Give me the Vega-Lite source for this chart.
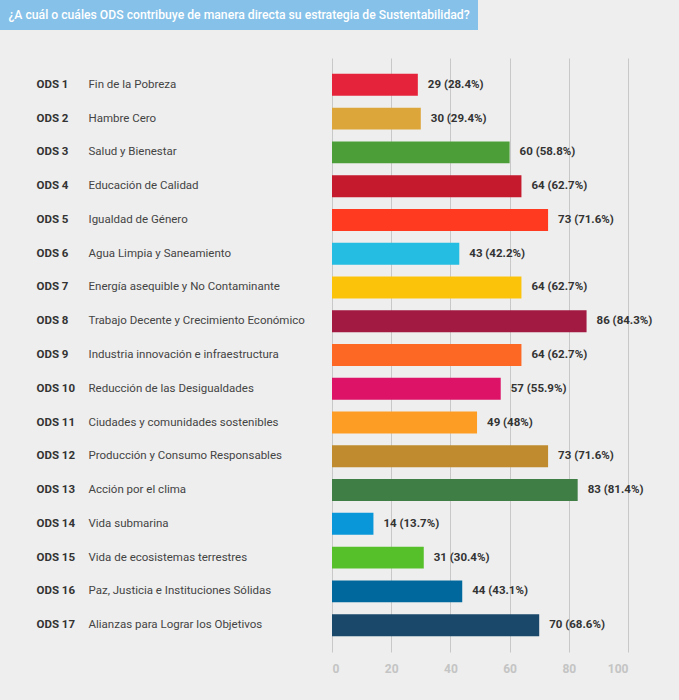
{
  "$schema": "https://vega.github.io/schema/vega-lite/v6.json",
  "background": "#eeeeee",
  "padding": {"left": 0, "top": 0, "right": 27, "bottom": 27},
  "config": {"view": {"stroke": null}, "font": "Roboto"},
  "spacing": 28,
  "vconcat": [
    {
      "width": 478,
      "height": 30,
      "view": {"fill": "#85c1e9", "stroke": null},
      "data": {"values": [{"t": "¿A cuál o cuáles ODS contribuye de manera directa su estrategia de Sustentabilidad?"}]},
      "mark": {"type": "text", "color": "#ffffff", "fontSize": 12.2, "fontWeight": 500, "font": "Roboto", "align": "center", "baseline": "middle"},
      "encoding": {"text": {"field": "t"}}
    },
    {
      "width": 628,
      "height": 594,
      "data": {"values": [
        {"ods": "ODS 1", "name": "Fin de la Pobreza", "count": 29, "pct": 28.4},
        {"ods": "ODS 2", "name": "Hambre Cero", "count": 30, "pct": 29.4},
        {"ods": "ODS 3", "name": "Salud y Bienestar", "count": 60, "pct": 58.8},
        {"ods": "ODS 4", "name": "Educación de Calidad", "count": 64, "pct": 62.7},
        {"ods": "ODS 5", "name": "Igualdad de Género", "count": 73, "pct": 71.6},
        {"ods": "ODS 6", "name": "Agua Limpia y Saneamiento", "count": 43, "pct": 42.2},
        {"ods": "ODS 7", "name": "Energía asequible y No Contaminante", "count": 64, "pct": 62.7},
        {"ods": "ODS 8", "name": "Trabajo Decente y Crecimiento Económico", "count": 86, "pct": 84.3},
        {"ods": "ODS 9", "name": "Industria innovación e infraestructura", "count": 64, "pct": 62.7},
        {"ods": "ODS 10", "name": "Reducción de las Desigualdades", "count": 57, "pct": 55.9},
        {"ods": "ODS 11", "name": "Ciudades y comunidades sostenibles", "count": 49, "pct": 48},
        {"ods": "ODS 12", "name": "Producción y Consumo Responsables", "count": 73, "pct": 71.6},
        {"ods": "ODS 13", "name": "Acción por el clima", "count": 83, "pct": 81.4},
        {"ods": "ODS 14", "name": "Vida submarina", "count": 14, "pct": 13.7},
        {"ods": "ODS 15", "name": "Vida de ecosistemas terrestres", "count": 31, "pct": 30.4},
        {"ods": "ODS 16", "name": "Paz, Justicia e Instituciones Sólidas", "count": 44, "pct": 43.1},
        {"ods": "ODS 17", "name": "Alianzas para Lograr los Objetivos", "count": 70, "pct": 68.6}
      ]},
      "transform": [
        {"calculate": "datum.ods + '|' + datum.name", "as": "key"},
        {"calculate": "datum.count + ' (' + datum.pct + '%)'", "as": "label"}
      ],
      "resolve": {"axis": {"y": "independent"}},
      "layer": [
        {
          "mark": {"type": "bar"},
          "encoding": {
            "y": {
              "field": "key", "type": "nominal", "sort": null,
              "scale": {"paddingInner": 0.35, "paddingOuter": 0.47},
              "axis": {
                "orient": "left", "labelExpr": "split(datum.label, '|')[0]",
                "labelAlign": "left", "labelPadding": -36, "labelFontSize": 11.5, "labelFontWeight": "bold",
                "labelColor": "#333333", "labelFont": "Roboto", "ticks": false, "domain": false, "grid": false, "title": null
              }
            },
            "x": {
              "field": "count", "type": "quantitative",
              "scale": {"domain": [0, 100], "range": [332, 628]},
              "axis": {
                "values": [0, 20, 40, 60, 80, 100], "title": null, "grid": true, "gridColor": "#c8c8c8",
                "ticks": false, "domain": false, "labelColor": "#c4c4c4", "labelFontSize": 12, "labelFontWeight": "bold",
                "labelPadding": 11
              }
            },
            "color": {
              "field": "ods", "type": "nominal", "legend": null,
              "scale": {
                "domain": ["ODS 1","ODS 2","ODS 3","ODS 4","ODS 5","ODS 6","ODS 7","ODS 8","ODS 9","ODS 10","ODS 11","ODS 12","ODS 13","ODS 14","ODS 15","ODS 16","ODS 17"],
                "range": ["#e5243b","#dda63a","#4c9f38","#c5192d","#ff3a21","#26bde2","#fcc30b","#a21942","#fd6925","#dd1367","#fd9d24","#bf8b2e","#3f7e44","#0a97d9","#56c02b","#00689d","#19486a"]
              }
            }
          }
        },
        {
          "mark": {"type": "text", "align": "left", "baseline": "middle", "dx": 10, "fontSize": 11.5, "fontWeight": "bold", "color": "#333333"},
          "encoding": {
            "y": {
              "field": "key", "type": "nominal", "sort": null,
              "axis": {
                "orient": "left", "labelExpr": "split(datum.label, '|')[1]",
                "labelAlign": "left", "labelPadding": -88, "labelLimit": 260, "labelFontSize": 11.5, "labelColor": "#444444",
                "labelFont": "Roboto", "ticks": false, "domain": false, "grid": false, "title": null
              }
            },
            "x": {"field": "count", "type": "quantitative"},
            "text": {"field": "label"}
          }
        }
      ]
    }
  ]
}
